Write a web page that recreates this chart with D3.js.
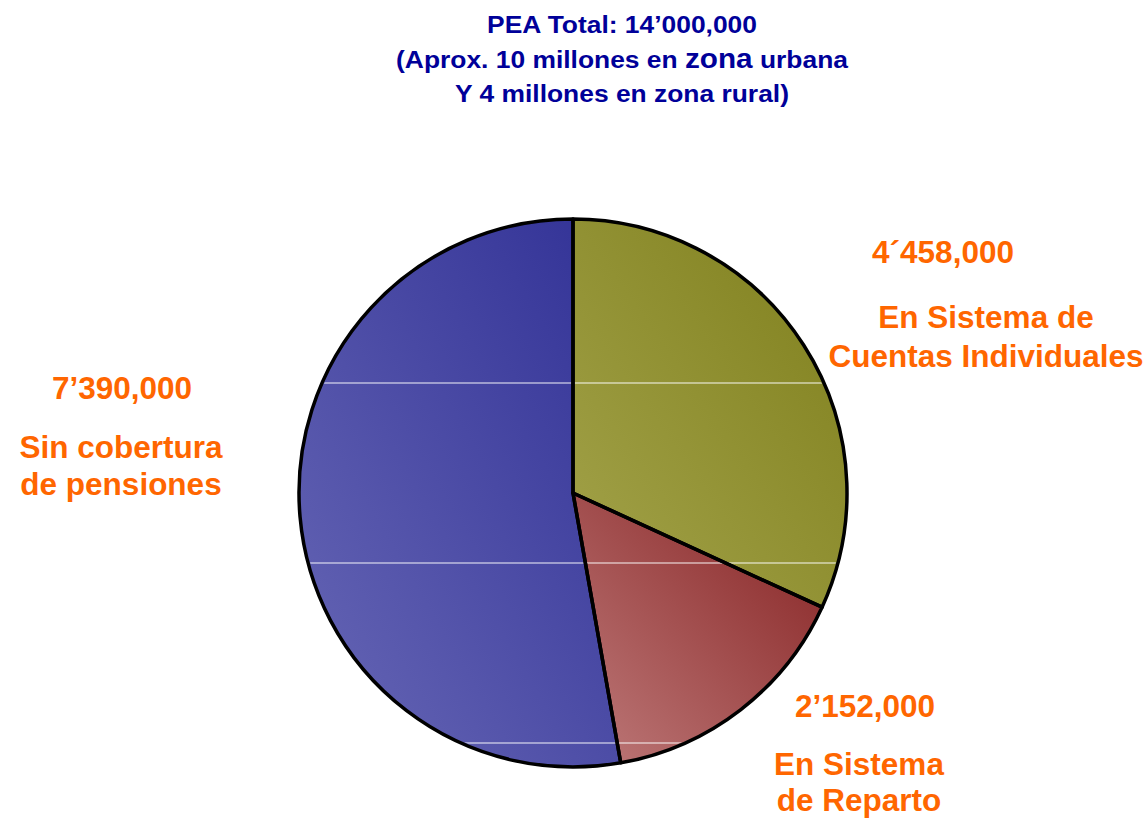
<!DOCTYPE html>
<html>
<head>
<meta charset="utf-8">
<script src="https://cdn.jsdelivr.net/npm/d3@7"></script>
<style>
  body { margin: 0; background: #fff; }
  text { font-family: "Liberation Sans", Arial, sans-serif; font-weight: bold; }
</style>
</head>
<body>
<svg id="chart"></svg>
<script>
// data
const categories = ["Cuentas Individuales", "Reparto", "Sin cobertura"];
const values = [4458000, 2152000, 7390000];
const valueLabels = ["4\u00b4458,000", "2\u2019152,000", "7\u2019390,000"];
const nameLines = [
    ["En Sistema de", "Cuentas Individuales"],
    ["En Sistema", "de Reparto"],
    ["Sin cobertura", "de pensiones"]
];
const titleLines = ["PEA Total: 14\u2019000,000", "(Aprox. 10 millones en zona urbana", "Y 4 millones en zona rural)"];
const gridTicks = [0, 1, 2];

const width = 1148, height = 820;
const cx = 573, cy = 493, radius = 274;

const svg = d3.select("#chart")
    .attr("width", width)
    .attr("height", height);

const colors = d3.scaleOrdinal()
    .domain(categories)
    .range([["#a3a34a", "#7f7f1c"], ["#be7a7a", "#862222"], ["#6868b6", "#313196"]]);

const defs = svg.append("defs");
categories.forEach((c, i) => {
    const g = defs.append("linearGradient")
        .attr("id", "grad" + i)
        .attr("x1", 0).attr("y1", 1)
        .attr("x2", 1).attr("y2", 0);
    g.append("stop").attr("offset", "0%").attr("stop-color", colors(c)[0]);
    g.append("stop").attr("offset", "100%").attr("stop-color", colors(c)[1]);
});
defs.append("clipPath").attr("id", "pieClip")
    .append("circle").attr("cx", cx).attr("cy", cy).attr("r", radius - 2);

const pie = d3.pie().sort(null).value(d => d)(values);
const arc = d3.arc().innerRadius(0).outerRadius(radius);

const g = svg.append("g").attr("transform", `translate(${cx},${cy})`);

g.selectAll("path.fill")
    .data(pie)
    .enter()
    .append("path")
    .attr("class", "fill")
    .attr("d", arc)
    .attr("fill", (d, i) => `url(#grad${i})`);

// white gridlines
const gridY = d3.scaleLinear().domain([0, 3]).range([743, 203]);
svg.append("g")
    .attr("clip-path", "url(#pieClip)")
    .selectAll("line")
    .data(gridTicks)
    .enter()
    .append("line")
    .attr("x1", cx - radius).attr("x2", cx + radius)
    .attr("y1", d => gridY(d)).attr("y2", d => gridY(d))
    .attr("stroke", "#ffffff")
    .attr("stroke-opacity", 0.95)
    .attr("stroke-width", 1);

svg.append("g").attr("transform", `translate(${cx},${cy})`)
    .selectAll("path")
    .data(pie)
    .enter()
    .append("path")
    .attr("d", arc)
    .attr("fill", "none")
    .attr("stroke", "#000")
    .attr("stroke-width", 3.5)
    .attr("stroke-linejoin", "round");

// title (the original is a bit stretched horizontally)
const titleG = svg.append("g").attr("fill", "#000099").attr("font-size", 24);
const titleRow = (y) => titleG.append("text")
    .attr("text-anchor", "middle")
    .attr("transform", `translate(622,${y}) scale(1.1,1)`);
titleRow(33).text(titleLines[0]);
const t2 = titleRow(68);
t2.append("tspan").text("(Aprox. 10 millones en ");
t2.append("tspan").attr("font-size", 27).text("zona");
t2.append("tspan").text(" urbana");
titleRow(102).text(titleLines[2]);

// labels
const labelPos = [
    {x: 943, y: 263, nx: 986, ny: [328, 367]},
    {x: 865, y: 717, nx: 859, ny: [775, 811]},
    {x: 122, y: 399, nx: 121, ny: [458, 495]}
];
const labels = svg.append("g").attr("fill", "#ff6600").attr("font-size", 31.5).attr("text-anchor", "middle");
valueLabels.forEach((v, i) => {
    const p = labelPos[i];
    labels.append("text").attr("x", p.x).attr("y", p.y).text(v);
    nameLines[i].forEach((line, j) => {
        labels.append("text").attr("x", p.nx).attr("y", p.ny[j]).text(line);
    });
});
</script>
</body>
</html>
